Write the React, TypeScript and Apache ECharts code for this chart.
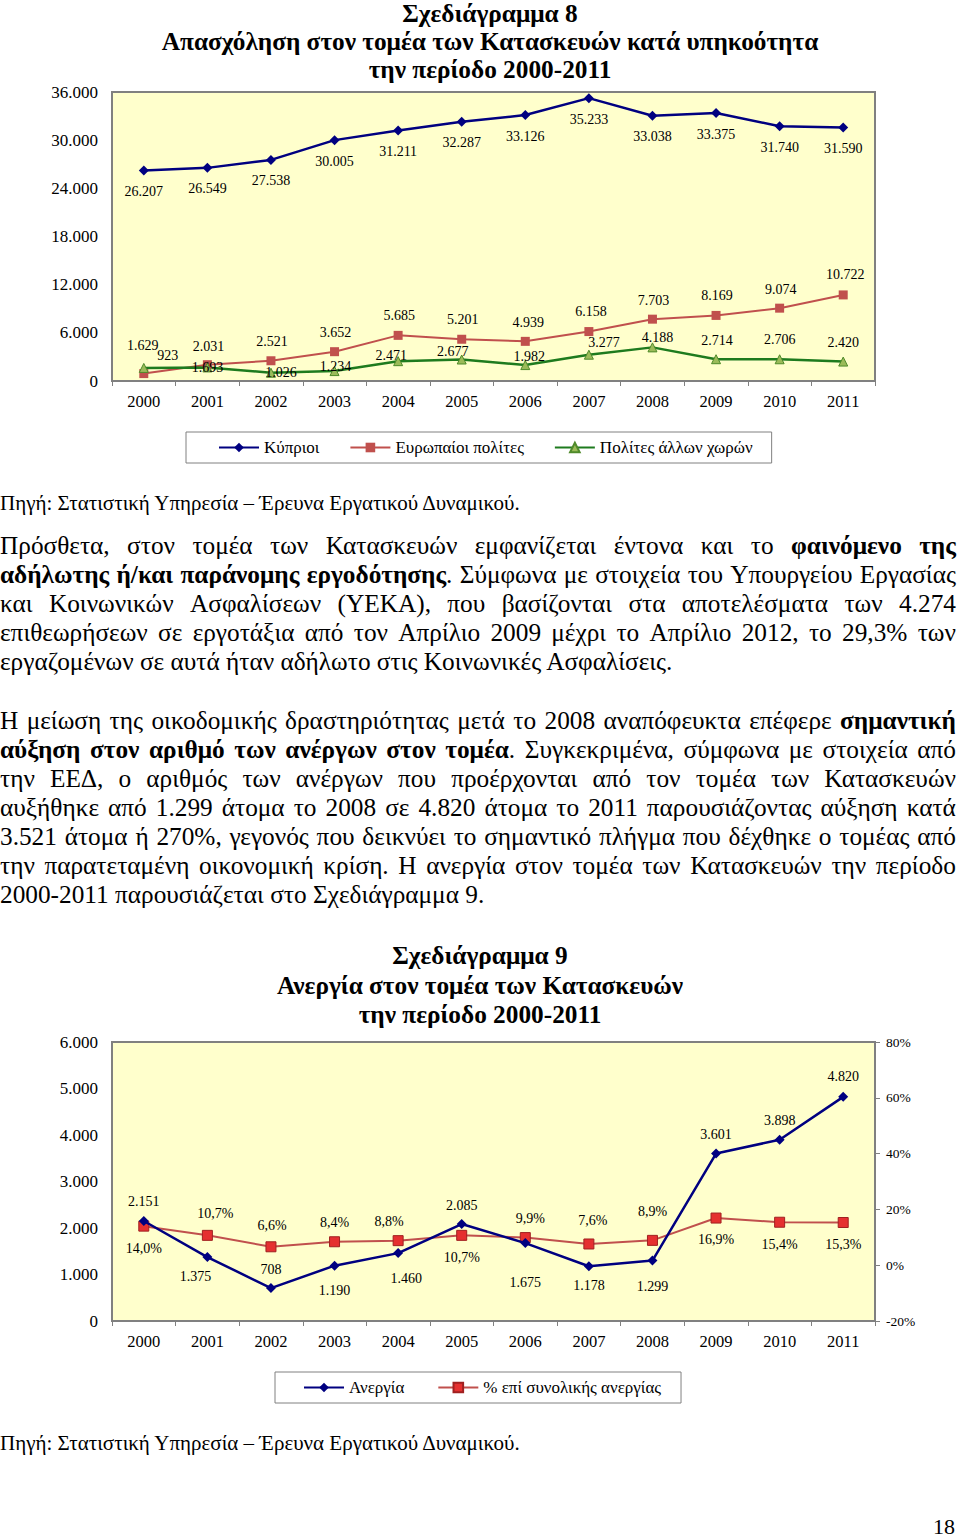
import React, { useEffect, useRef } from "react";
import * as echarts from "echarts";

// ---------- data ----------
const years = ["2000", "2001", "2002", "2003", "2004", "2005", "2006", "2007", "2008", "2009", "2010", "2011"];

// Σχεδιάγραμμα 8
const cypriots = [26207, 26549, 27538, 30005, 31211, 32287, 33126, 35233, 33038, 33375, 31740, 31590];
const europeans = [923, 2031, 2521, 3652, 5685, 5201, 4939, 6158, 7703, 8169, 9074, 10722];
const otherCountries = [1629, 1693, 1026, 1234, 2471, 2677, 1982, 3277, 4188, 2714, 2706, 2420];
const chart8Names = ["Κύπριοι", "Ευρωπαίοι πολίτες", "Πολίτες άλλων χωρών"];
const chart8Axis = { min: 0, max: 36000, interval: 6000 };

// Σχεδιάγραμμα 9
const unemployed = [2151, 1375, 708, 1190, 1460, 2085, 1675, 1178, 1299, 3601, 3898, 4820];
const unemployedShare = [14.0, 10.7, 6.6, 8.4, 8.8, 10.7, 9.9, 7.6, 8.9, 16.9, 15.4, 15.3];
const chart9Names = ["Ανεργία", "% επί συνολικής ανεργίας"];
const chart9LeftAxis = { min: 0, max: 6000, interval: 1000 };
const chart9RightAxis = { min: -20, max: 80, interval: 20 };

// label placement (offsets of each value label from its point)
const cypLabelOff = years.map(() => [0, 21]);
const eurLabelOff = [[24, -18], [1, -18], [1, -19], [1, -19], [1, -20], [1, -20], [3, -19], [2, -20], [1, -19], [1, -20], [1, -19], [2, -20]];
const othLabelOff = [[-1, -22], [0, 0], [10, 0], [1, -5], [-7, -6], [-9, -8], [4, -9], [15, -12], [5, -10], [1, -19], [0, -20], [0, -19]];
const unLabelOff = [[0, -19], [-12, 19], [0, -19], [0, 25], [8, 25], [0, -19], [0, 39], [0, 19], [0, 26], [0, -19], [0, -19], [0, -20]];
const shareLabelOff = [[0, 22], [8, -22], [1, -21], [0, -19], [-9, -19], [0, 22], [5, -19], [4, -23], [0, -29], [0, 21], [0, 22], [0, 22]];

// ---------- page text ----------
const sourceText = "Πηγή: Στατιστική Υπηρεσία – Έρευνα Εργατικού Δυναμικού.";
type Piece = [string, boolean];
const paragraph1: Piece[][] = [
  [["Πρόσθετα, στον τομέα των Κατασκευών εμφανίζεται έντονα και το ", false], ["φαινόμενο της", true]],
  [["αδήλωτης ή/και παράνομης εργοδότησης", true], [". Σύμφωνα με στοιχεία του Υπουργείου Εργασίας", false]],
  [["και Κοινωνικών Ασφαλίσεων (ΥΕΚΑ), που βασίζονται στα αποτελέσματα των 4.274", false]],
  [["επιθεωρήσεων σε εργοτάξια από τον Απρίλιο 2009 μέχρι το Απρίλιο 2012, το 29,3% των", false]],
  [["εργαζομένων σε αυτά ήταν αδήλωτο στις Κοινωνικές Ασφαλίσεις.", false]],
];
const paragraph2: Piece[][] = [
  [["Η μείωση της οικοδομικής δραστηριότητας μετά το 2008 αναπόφευκτα επέφερε ", false], ["σημαντική", true]],
  [["αύξηση στον αριθμό των ανέργων στον τομέα", true], [". Συγκεκριμένα, σύμφωνα με στοιχεία από", false]],
  [["την ΕΕΔ, ο αριθμός των ανέργων που προέρχονται από τον τομέα των Κατασκευών", false]],
  [["αυξήθηκε από 1.299 άτομα το 2008 σε 4.820 άτομα το 2011 παρουσιάζοντας αύξηση κατά", false]],
  [["3.521 άτομα ή 270%, γεγονός που δεικνύει το σημαντικό πλήγμα που δέχθηκε ο τομέας από", false]],
  [["την παρατεταμένη οικονομική κρίση. Η ανεργία στον τομέα των Κατασκευών την περίοδο", false]],
  [["2000-2011 παρουσιάζεται στο Σχεδιάγραμμα 9.", false]],
];

const FONT = '"Liberation Serif", "Times New Roman", serif';

const fmtThousands = (n: number) => String(n).replace(/\B(?=(\d{3})+(?!\d))/g, ".");
const fmtPct = (n: number) => n.toFixed(1).replace(".", ",") + "%";

function withLabels(values: number[], offsets: number[][], fmt: (n: number) => string) {
  return values.map((v, i) => ({
    value: v,
    label: { show: true, position: "inside", offset: offsets[i], formatter: () => fmt(v) },
  }));
}

const labelBase = { color: "#000", fontSize: 14, fontFamily: FONT };

const xAxisCommon = {
  type: "category",
  data: years,
  boundaryGap: true,
  axisLine: { show: true, lineStyle: { color: "#808080", width: 1.5 } },
  axisTick: { show: true, length: 5, lineStyle: { color: "#808080" } },
  axisLabel: { color: "#000", fontSize: 16.5, fontFamily: FONT, margin: 12 },
  splitLine: { show: false },
};

const titleText = (x: number, y: number, text: string) => ({
  type: "text",
  x,
  y,
  style: {
    text,
    fill: "#000",
    font: `bold 25.3px ${FONT}`,
    textAlign: "center",
    textVerticalAlign: "middle",
  },
});

const option8 = {
  animation: false,
  backgroundColor: "transparent",
  graphic: [
    titleText(490, 13, "Σχεδιάγραμμα 8"),
    titleText(490, 41, "Απασχόληση στον τομέα των Κατασκευών κατά υπηκοότητα"),
    titleText(490, 69, "την περίοδο 2000-2011"),
  ],
  grid: {
    left: 112,
    top: 92,
    width: 763,
    height: 289,
    show: true,
    backgroundColor: "#FFFFCC",
    borderColor: "#808080",
    borderWidth: 2,
  },
  legend: {
    left: 186,
    top: 432,
    padding: [7, 19, 7, 32],
    itemGap: 30,
    itemWidth: 40,
    itemHeight: 12,
    borderColor: "#808080",
    borderWidth: 1,
    textStyle: { color: "#000", fontSize: 17, fontFamily: FONT },
    data: chart8Names,
  },
  xAxis: xAxisCommon,
  yAxis: {
    type: "value",
    min: chart8Axis.min,
    max: chart8Axis.max,
    interval: chart8Axis.interval,
    axisLine: { show: false },
    axisTick: { show: false },
    splitLine: { show: false },
    axisLabel: { color: "#000", fontSize: 17, fontFamily: FONT, margin: 14, formatter: (v: number) => fmtThousands(v) },
  },
  series: [
    {
      name: chart8Names[0],
      type: "line",
      data: withLabels(cypriots, cypLabelOff, fmtThousands),
      symbol: "diamond",
      symbolSize: 10,
      lineStyle: { color: "#000080", width: 2.5 },
      itemStyle: { color: "#000080" },
      label: labelBase,
    },
    {
      name: chart8Names[1],
      type: "line",
      data: withLabels(europeans, eurLabelOff, fmtThousands),
      symbol: "rect",
      symbolSize: 9,
      lineStyle: { color: "#C0504D", width: 2 },
      itemStyle: { color: "#C0504D" },
      label: labelBase,
    },
    {
      name: chart8Names[2],
      type: "line",
      data: withLabels(otherCountries, othLabelOff, fmtThousands),
      symbol: "triangle",
      symbolSize: 9,
      lineStyle: { color: "#1E7B1E", width: 2.5 },
      itemStyle: { color: "#9BBB59", borderColor: "#4F8A2A", borderWidth: 1 },
      label: labelBase,
    },
  ],
};

const option9 = {
  animation: false,
  backgroundColor: "transparent",
  graphic: [
    titleText(480, 25, "Σχεδιάγραμμα 9"),
    titleText(480, 55, "Ανεργία στον τομέα των Κατασκευών"),
    titleText(480, 84, "την περίοδο 2000-2011"),
  ],
  grid: {
    left: 112,
    top: 112,
    width: 763,
    height: 279,
    show: true,
    backgroundColor: "#FFFFCC",
    borderColor: "#808080",
    borderWidth: 2,
  },
  legend: {
    left: 275,
    top: 442,
    padding: [7, 20, 7, 28],
    itemGap: 33,
    itemWidth: 40,
    itemHeight: 12,
    borderColor: "#808080",
    borderWidth: 1,
    textStyle: { color: "#000", fontSize: 17, fontFamily: FONT },
    data: chart9Names,
  },
  xAxis: xAxisCommon,
  yAxis: [
    {
      type: "value",
      min: chart9LeftAxis.min,
      max: chart9LeftAxis.max,
      interval: chart9LeftAxis.interval,
      axisLine: { show: false },
      axisTick: { show: false },
      splitLine: { show: false },
      axisLabel: { color: "#000", fontSize: 17, fontFamily: FONT, margin: 14, formatter: (v: number) => fmtThousands(v) },
    },
    {
      type: "value",
      position: "right",
      min: chart9RightAxis.min,
      max: chart9RightAxis.max,
      interval: chart9RightAxis.interval,
      axisLine: { show: true, lineStyle: { color: "#808080", width: 1.5 } },
      axisTick: { show: true, length: 5, lineStyle: { color: "#808080" } },
      splitLine: { show: false },
      axisLabel: { color: "#000", fontSize: 13.5, fontFamily: FONT, margin: 11, formatter: (v: number) => v + "%" },
    },
  ],
  series: [
    {
      name: chart9Names[0],
      type: "line",
      yAxisIndex: 0,
      data: withLabels(unemployed, unLabelOff, fmtThousands),
      symbol: "diamond",
      symbolSize: 10,
      lineStyle: { color: "#000080", width: 2.5 },
      itemStyle: { color: "#000080" },
      label: labelBase,
      z: 3,
    },
    {
      name: chart9Names[1],
      type: "line",
      yAxisIndex: 1,
      data: withLabels(unemployedShare, shareLabelOff, fmtPct),
      symbol: "rect",
      symbolSize: 10,
      lineStyle: { color: "#C0504D", width: 2 },
      itemStyle: { color: "#E53030", borderColor: "#A02020", borderWidth: 1 },
      label: labelBase,
      z: 2,
    },
  ],
};

function Chart({ option, style }: { option: any; style: React.CSSProperties }) {
  const ref = useRef<HTMLDivElement>(null);
  useEffect(() => {
    if (!ref.current) return;
    const chart = echarts.init(ref.current, undefined, { renderer: "svg" });
    chart.setOption(option);
    return () => chart.dispose();
  }, [option]);
  return <div ref={ref} style={style} />;
}

const textStyle: React.CSSProperties = {
  position: "absolute",
  left: 0,
  width: 956,
  margin: 0,
  fontFamily: FONT,
  color: "#000",
};

// split a line's pieces into words (each word = list of styled fragments)
function toWords(line: Piece[]): Piece[][] {
  const words: Piece[][] = [];
  let cur: Piece[] = [];
  for (const [text, bold] of line) {
    let buf = "";
    for (const ch of text) {
      if (ch === " ") {
        if (buf) cur.push([buf, bold]);
        buf = "";
        if (cur.length) words.push(cur);
        cur = [];
      } else {
        buf += ch;
      }
    }
    if (buf) cur.push([buf, bold]);
  }
  if (cur.length) words.push(cur);
  return words;
}

const frag = ([t, b]: Piece, k: number) => (b ? <b key={k}>{t}</b> : <span key={k}>{t}</span>);

function Paragraph({ lines, top }: { lines: Piece[][]; top: number }) {
  return (
    <div style={{ ...textStyle, top, fontSize: 25.3, lineHeight: "29px" }}>
      {lines.map((line, i) => {
        const last = i === lines.length - 1;
        if (last) {
          return (
            <div key={i} style={{ whiteSpace: "nowrap" }}>
              {line.map(frag)}
            </div>
          );
        }
        const words = toWords(line);
        return (
          <div key={i} style={{ display: "flex", justifyContent: "space-between", whiteSpace: "nowrap" }}>
            {words.map((w, j) => (
              <span key={j}>{w.map(frag)}</span>
            ))}
          </div>
        );
      })}
    </div>
  );
}

export default function App() {
  return (
    <div style={{ position: "absolute", left: 0, top: 0, width: 960, height: 1539, background: "#fff", overflow: "hidden" }}>
      <Chart option={option8} style={{ position: "absolute", left: 0, top: 0, width: 960, height: 480 }} />
      <div style={{ ...textStyle, top: 490, fontSize: 21, lineHeight: "26px" }}>{sourceText}</div>
      <Paragraph lines={paragraph1} top={531} />
      <Paragraph lines={paragraph2} top={706} />
      <Chart option={option9} style={{ position: "absolute", left: 0, top: 930, width: 960, height: 490 }} />
      <div style={{ ...textStyle, top: 1430, fontSize: 21, lineHeight: "26px" }}>{sourceText}</div>
      <div style={{ position: "absolute", right: 5, top: 1514, fontSize: 22, lineHeight: "26px", fontFamily: FONT }}>18</div>
    </div>
  );
}
